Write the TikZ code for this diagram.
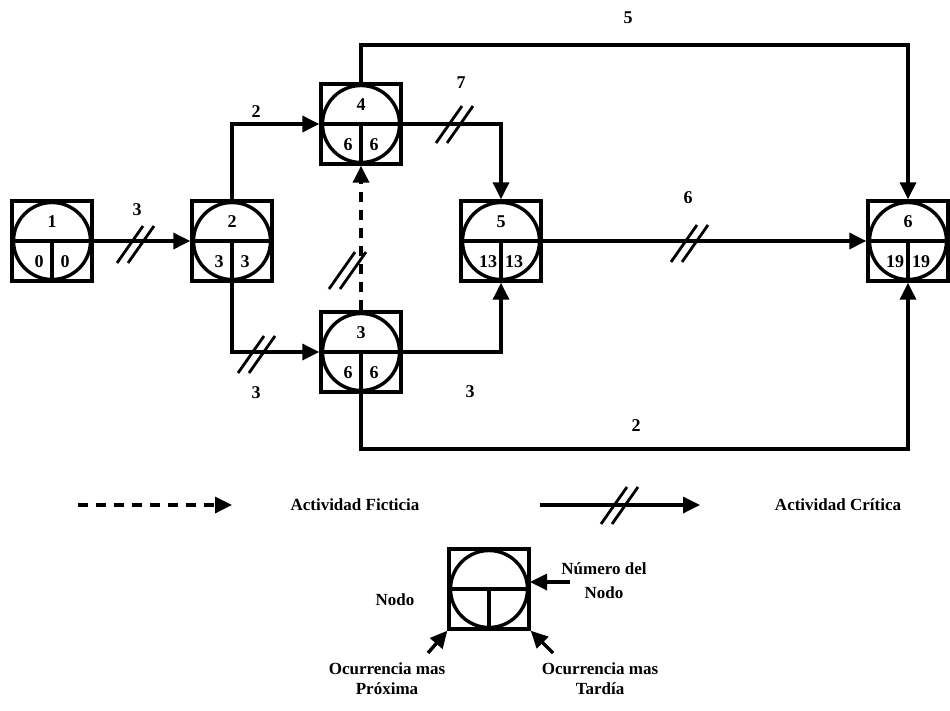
\documentclass[tikz,border=0pt]{standalone}
\usepackage{fontspec}
\setmainfont{Liberation Serif}
\usetikzlibrary{arrows.meta}
\begin{document}
\begin{tikzpicture}[x=1pt,y=-1pt, line width=3.4pt,
  evbox/.style={draw, rectangle, minimum size=80pt, inner sep=0pt, line width=3.4pt},
  arr/.style={-{Triangle[length=17pt,width=16pt]}, line width=3.4pt},
  dsh/.style={dash pattern=on 10pt off 8pt},
  lbl/.style={font=\fontsize{18}{20}\selectfont\bfseries, inner sep=0pt},
  txt/.style={font=\fontsize{17}{20}\selectfont\bfseries, inner sep=0pt, align=center},
  dslash/.pic={\draw[line width=2.8pt] (-19,19) -- (7,-18) (-8,19) -- (18,-18);}]
\useasboundingbox (0,0) rectangle (950,710);
\newcommand\evshape[1]{%
  \draw (#1.center) circle (38.5pt);
  \draw (#1.west) -- (#1.east);
  \draw (#1.center) -- (#1.south);}
\newcommand\evnode[5]{%
  \node[evbox] (#1) at (#2) {};
  \evshape{#1}
  \node[lbl] at ([yshift=19pt]#1.center) {#3};
  \node[lbl] at ([xshift=-13pt,yshift=-21pt]#1.center) {#4};
  \node[lbl] at ([xshift=13pt,yshift=-21pt]#1.center) {#5};}
\evnode{n1}{52,241}{1}{0}{0}
\evnode{n2}{232,241}{2}{3}{3}
\evnode{n4}{361,124}{4}{6}{6}
\evnode{n3}{361,352}{3}{6}{6}
\evnode{n5}{501,241}{5}{13}{13}
\evnode{n6}{908,241}{6}{19}{19}
% corners
\coordinate (t46) at (361,45);
\coordinate (b36) at (361,449);
% activities
\draw[arr] (n1.east) -- (n2.west);
\draw[arr] (n2.north) |- (n4.west);
\draw[arr] (n2.south) |- (n3.west);
\draw[arr,dsh] (n3.north) -- (n4.south);
\draw[arr] (n4.east) -| (n5.north);
\draw[arr] (n4.north) -- (t46) -| (n6.north);
\draw[arr] (n5.east) -- (n6.west);
\draw[arr] (n3.east) -| (n5.south);
\draw[arr] (n3.south) -- (b36) -| (n6.south);
% critical marks
\pic at (136,244) {dslash};
\pic at (257,354) {dslash};
\pic at (348,270) {dslash};
\pic at (455,124) {dslash};
\pic at (690,243) {dslash};
% durations
\node[lbl] at (137,210) {3};
\node[lbl] at (256,112) {2};
\node[lbl] at (256,393) {3};
\node[lbl] at (461,83) {7};
\node[lbl] at (628,18) {5};
\node[lbl] at (688,198) {6};
\node[lbl] at (470,392) {3};
\node[lbl] at (636,426) {2};
% legend
\coordinate (ld1) at (78,505);
\coordinate (ld2) at (232,505);
\draw[arr,dsh] (ld1) -- (ld2);
\node[txt] (lf) at (355,505) {Actividad Ficticia};
\coordinate (lc1) at (540,505);
\coordinate (lc2) at (700,505);
\draw[arr] (lc1) -- (lc2);
\pic at (620,505) {dslash};
\node[txt] (lcr) at (838,505) {Actividad Crítica};
\node[evbox] (lg) at (489,589) {};
\evshape{lg}
\node[txt] (lnum1) at (604,569) {Número del};
\node[txt] (lnum2) at (604,593) {Nodo};
\coordinate (lnt) at (570,582);
\coordinate (lnh) at (530,582);
\draw[arr] (lnt) -- (lnh);
\node[txt] (lnodo) at (395,600) {Nodo};
\node[txt] (lprox) at (387,679) {Ocurrencia mas\\Próxima};
\node[txt] (ltard) at (600,679) {Ocurrencia mas\\Tardía};
\coordinate (lpt) at (428,653);
\draw[arr] (lpt) -- (lg.south west);
\coordinate (ltt) at (553,653);
\draw[arr] (ltt) -- (lg.south east);
\end{tikzpicture}
\end{document}
